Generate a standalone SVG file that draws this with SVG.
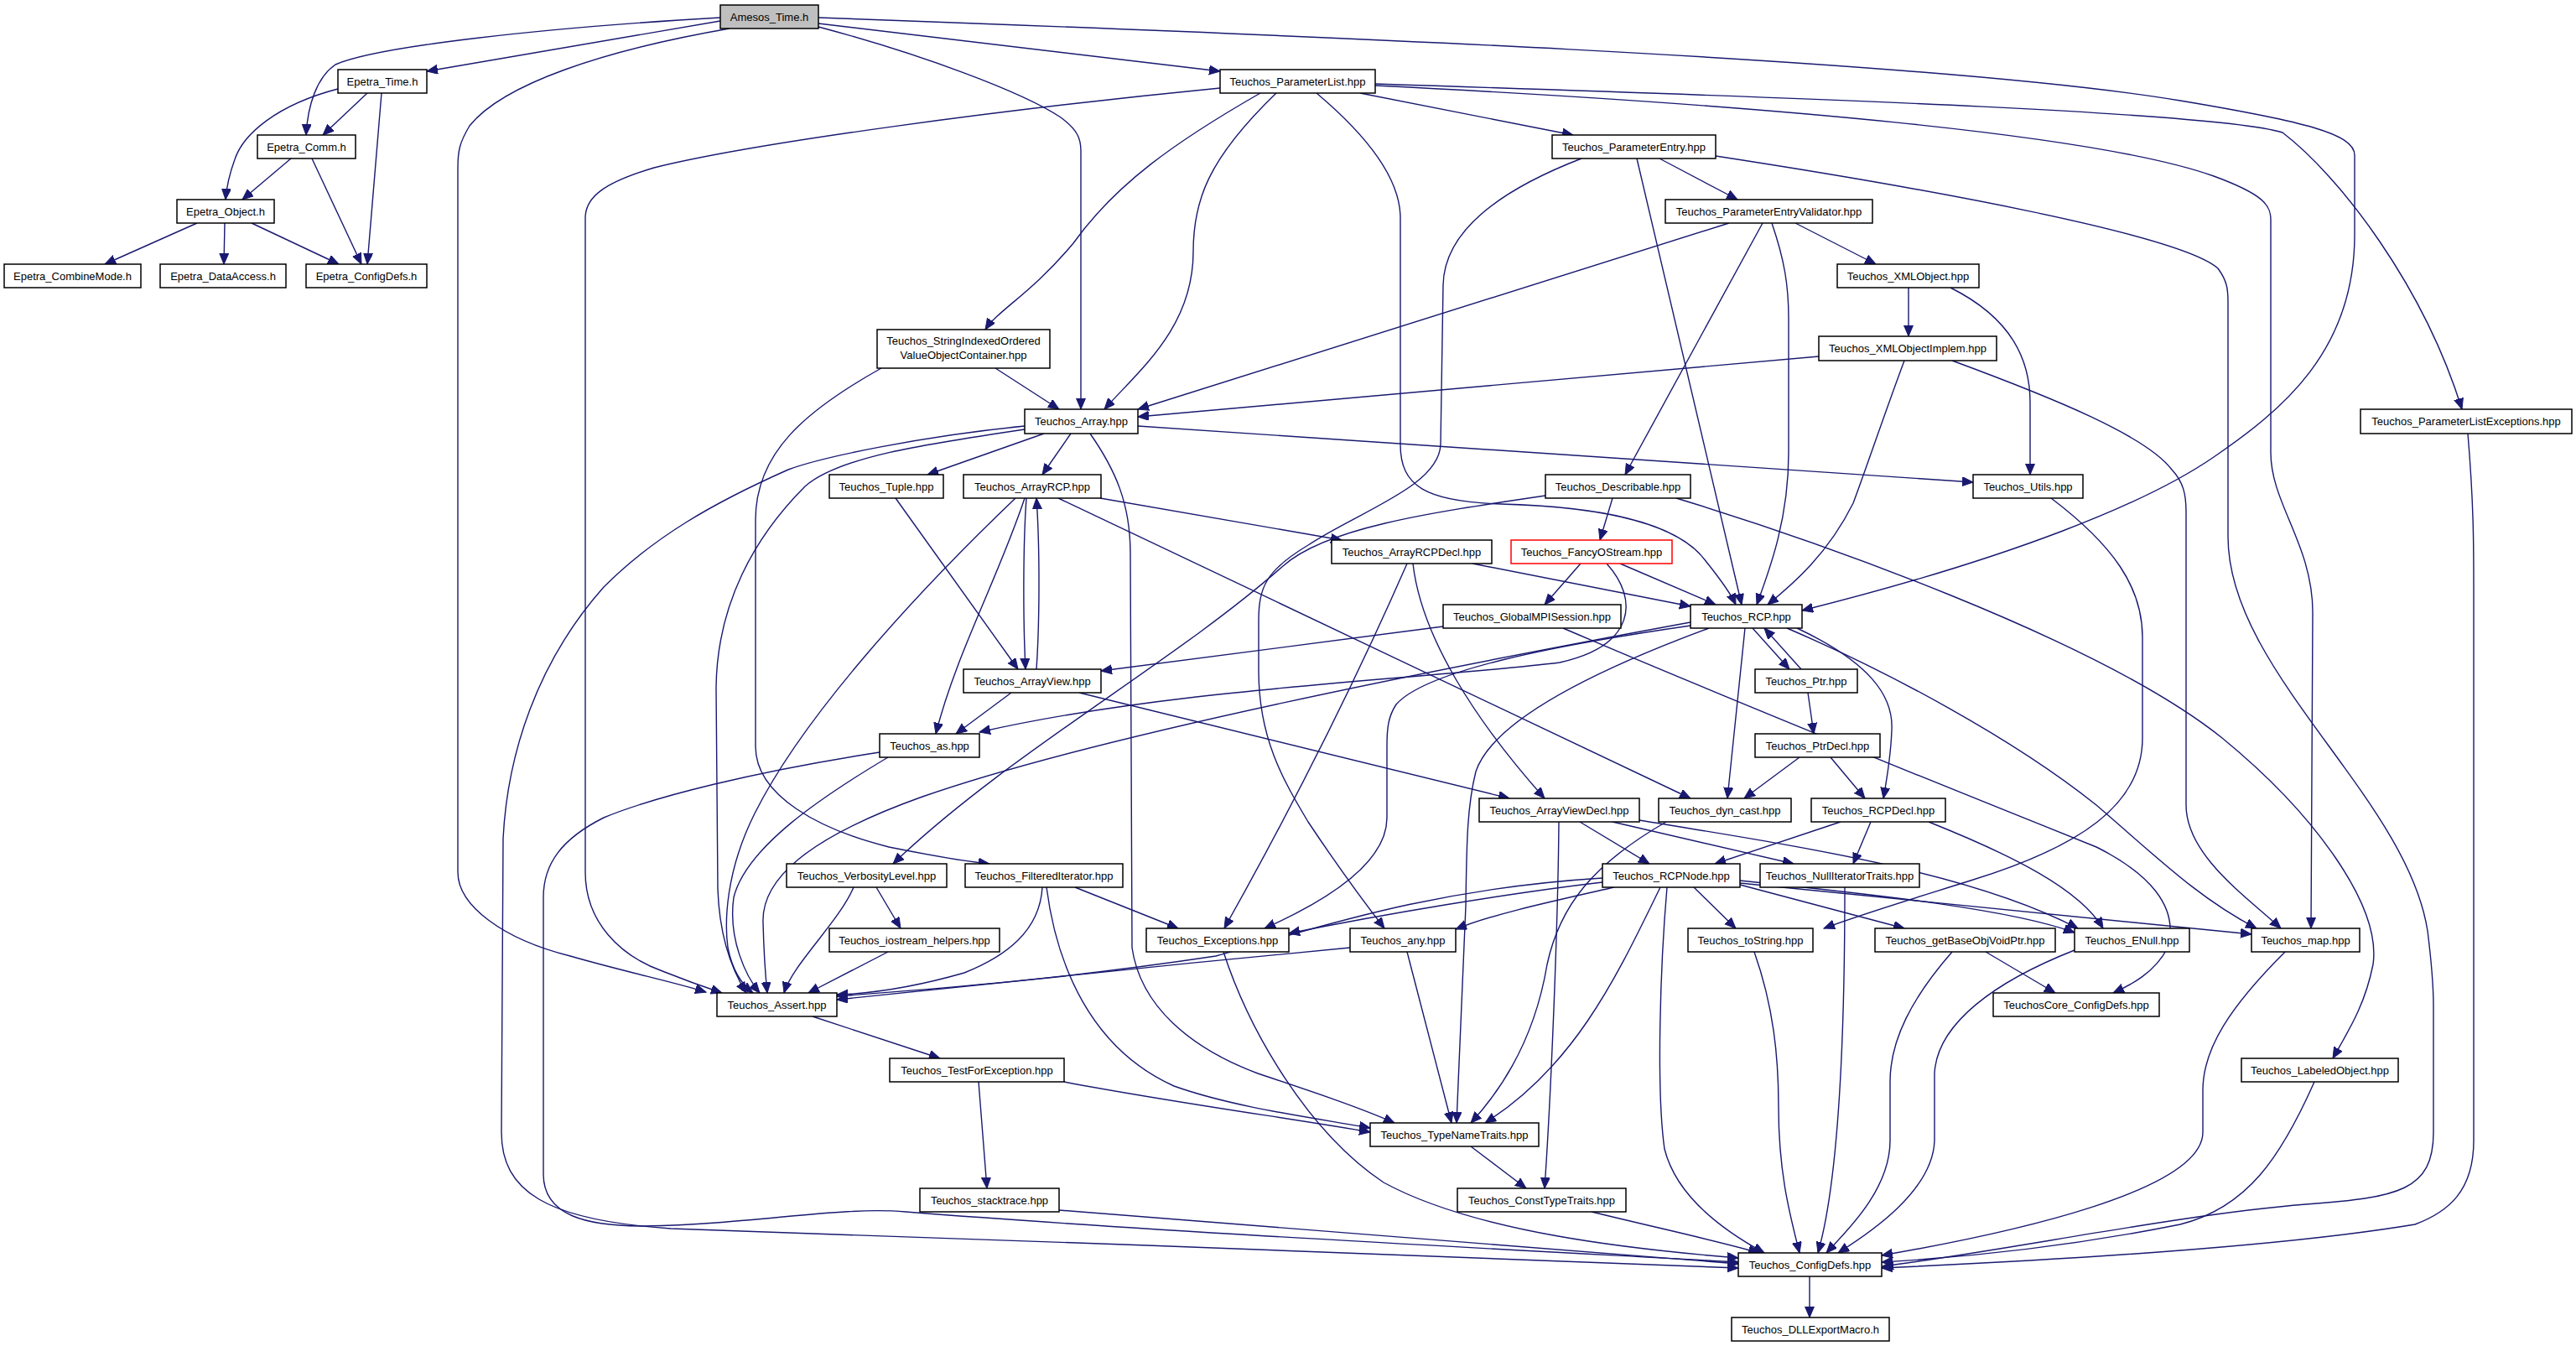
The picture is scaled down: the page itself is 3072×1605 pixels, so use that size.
<svg xmlns="http://www.w3.org/2000/svg" width="3072" height="1605" viewBox="0 0 3072 1605">
<style>
.n rect{fill:#fff;stroke:#000;stroke-width:1.5}
.n text{font-family:"Liberation Sans",Arial,sans-serif;font-size:13px;fill:#000;text-anchor:middle}
.e path{fill:none;stroke:#191970;stroke-width:1.4;marker-end:url(#a)}
</style>
<defs>
<marker id="a" markerUnits="userSpaceOnUse" markerWidth="14" markerHeight="12" refX="13" refY="5.5" orient="auto">
<path d="M0,0 L13,5.5 L0,11 z" fill="#191970" stroke="#191970" stroke-width="1"/>
</marker>
</defs>
<rect x="0" y="0" width="3072" height="1605" fill="#fff"/>
<g id="connectors" class="e">
<path d="M859,25 L509,85"/>
<path d="M859,21 C650,33 450,55 400,77 C378,92 367,125 365,161"/>
<path d="M870,34 C720,60 600,100 560,150 C548,170 546,180 546,200 L546,1040 C546,1080 600,1120 680,1140 C750,1160 800,1170 842,1183"/>
<path d="M976,32 C1100,65 1220,110 1265,140 C1285,155 1289,165 1289,180 L1289,488"/>
<path d="M976,28 L1455,85"/>
<path d="M976,21 C1500,40 2300,70 2600,120 C2750,145 2808,160 2808,185 L2808,280 C2808,420 2720,490 2640,545 C2560,600 2400,665 2149,728"/>
<path d="M438,111 L385,161"/>
<path d="M403,106 C330,125 290,160 280,190 C272,212 270,225 269,238"/>
<path d="M455,111 L438,315"/>
<path d="M347,189 L289,238"/>
<path d="M372,189 L431,315"/>
<path d="M235,266 L125,315"/>
<path d="M268,266 L267,315"/>
<path d="M300,266 L404,315"/>
<path d="M1455,105 C1200,130 900,170 780,200 C720,218 698,235 698,260 L698,1040 C698,1100 740,1140 790,1158 C820,1170 840,1177 861,1184"/>
<path d="M1503,111 C1400,170 1330,220 1280,290 C1230,350 1190,370 1175,393"/>
<path d="M1522,111 C1440,190 1423,240 1423,300 C1423,390 1360,440 1317,488"/>
<path d="M1570,111 C1640,170 1670,220 1670,260 L1670,530 C1670,580 1700,598 1790,601 C1900,604 2000,620 2035,670 C2055,695 2065,710 2070,721"/>
<path d="M1622,111 L1876,161"/>
<path d="M1640,100 C2200,118 2650,135 2722,158 C2790,210 2890,340 2936,488"/>
<path d="M1640,102 C2100,125 2500,160 2640,210 C2700,232 2708,245 2708,262 L2708,540 C2708,600 2758,650 2758,730 L2756,1107"/>
<path d="M1979,189 L2072,238"/>
<path d="M1952,189 L2077,721"/>
<path d="M1886,189 C1780,230 1722,280 1721,340 L1718,530 C1716,580 1620,610 1560,650 C1510,680 1501,700 1501,740 L1501,800 C1501,880 1530,930 1560,980 C1600,1040 1630,1080 1651,1107"/>
<path d="M2046,186 C2300,225 2600,280 2645,320 C2656,335 2657,345 2657,360 L2657,640 C2657,800 2870,950 2895,1110 C2900,1150 2902,1180 2902,1200 L2902,1350 C2902,1420 2860,1428 2750,1436 C2600,1448 2400,1490 2245,1510"/>
<path d="M2062,266 L1357,488"/>
<path d="M2102,266 L1938,566"/>
<path d="M2113,266 C2128,310 2133,340 2133,380 L2133,540 C2133,620 2110,680 2095,721"/>
<path d="M2141,266 L2237,315"/>
<path d="M2276,343 L2276,401"/>
<path d="M2326,343 C2400,380 2421,430 2421,480 L2421,566"/>
<path d="M2169,425 L1357,497"/>
<path d="M2271,430 C2245,500 2225,560 2210,600 C2180,660 2140,695 2108,721"/>
<path d="M2328,430 C2450,475 2560,520 2590,560 C2604,575 2607,590 2607,610 L2607,960 C2607,1020 2680,1070 2720,1107"/>
<path d="M1187,439 L1263,488"/>
<path d="M1051,439 C960,490 901,540 901,620 L901,890 C901,950 980,990 1060,1010 C1120,1022 1160,1028 1180,1030"/>
<path d="M1245,517 L1106,566"/>
<path d="M1277,517 L1243,566"/>
<path d="M1357,508 L2353,575"/>
<path d="M1222,512 C1100,530 1000,545 960,580 C900,640 855,720 854,820 L856,1060 C858,1120 875,1160 890,1184"/>
<path d="M1222,508 C1100,520 980,545 940,560 C850,600 780,640 720,700 C640,790 605,900 600,1000 L598,1350 C598,1420 650,1455 800,1465 C1200,1480 1700,1495 2073,1512"/>
<path d="M1049,897 C900,920 780,950 720,975 C670,1000 648,1030 648,1070 L648,1400 C648,1450 700,1462 768,1462 C900,1460 1000,1438 1080,1445 C1400,1470 1800,1490 2073,1505"/>
<path d="M1300,517 C1330,560 1348,600 1348,660 L1350,1130 C1360,1200 1420,1250 1500,1280 C1560,1300 1620,1320 1663,1339"/>
<path d="M1224,594 C1220,650 1220,740 1223,798"/>
<path d="M1236,798 C1240,740 1240,650 1236,594"/>
<path d="M1222,594 C1190,690 1140,780 1116,875"/>
<path d="M1211,594 C1100,700 960,850 900,970 C865,1040 864,1100 868,1130 C875,1165 890,1178 898,1184"/>
<path d="M1312,594 L1600,644"/>
<path d="M1262,594 L2016,952"/>
<path d="M1068,594 L1214,798"/>
<path d="M1206,826 L1140,875"/>
<path d="M1287,826 L1800,952"/>
<path d="M1059,903 C980,950 890,1010 875,1070 C868,1120 890,1165 906,1184"/>
<path d="M1916,672 C1955,715 1950,770 1860,790 C1700,810 1400,820 1168,873"/>
<path d="M2016,742 C1700,800 1300,880 1100,950 C960,1000 908,1050 910,1100 C911,1140 913,1165 915,1184"/>
<path d="M2016,746 C1850,770 1700,800 1665,840 C1655,855 1654,870 1654,890 L1654,975 C1654,1030 1580,1075 1508,1107"/>
<path d="M2090,749 L2134,798"/>
<path d="M2148,798 L2104,749"/>
<path d="M2081,749 L2060,952"/>
<path d="M2143,749 C2230,790 2258,830 2256,870 C2255,900 2250,930 2246,952"/>
<path d="M2038,749 C1900,800 1780,860 1760,920 C1750,960 1749,1000 1748,1080 L1737,1339"/>
<path d="M2131,749 C2250,800 2400,880 2500,960 C2570,1020 2620,1070 2691,1107"/>
<path d="M1864,749 C2100,850 2350,950 2500,1010 C2560,1040 2600,1080 2585,1130 C2570,1160 2540,1175 2520,1184"/>
<path d="M1923,594 L1908,644"/>
<path d="M1843,591 C1700,612 1580,630 1530,675 C1400,790 1200,900 1065,1030"/>
<path d="M1999,594 C2150,640 2500,760 2650,880 C2760,970 2840,1080 2830,1150 C2820,1200 2800,1230 2782,1262"/>
<path d="M1885,672 L1842,721"/>
<path d="M1932,672 L2046,721"/>
<path d="M1756,672 L2016,723"/>
<path d="M1685,672 C1695,760 1760,860 1842,952"/>
<path d="M1678,672 C1600,850 1520,1000 1460,1107"/>
<path d="M1721,747 L1313,800"/>
<path d="M2156,826 L2163,875"/>
<path d="M2146,903 L2080,952"/>
<path d="M2183,903 L2224,952"/>
<path d="M1884,980 L1967,1030"/>
<path d="M1923,980 L2139,1030"/>
<path d="M1859,980 C1858,1100 1850,1300 1842,1417"/>
<path d="M1955,978 C2150,1010 2350,1040 2478,1107"/>
<path d="M1987,980 C1900,1030 1860,1080 1845,1150 C1830,1240 1790,1300 1754,1339"/>
<path d="M2195,980 L2045,1030"/>
<path d="M2231,980 L2210,1030"/>
<path d="M2300,980 C2400,1020 2480,1060 2508,1107"/>
<path d="M1911,1047 C1700,1060 1560,1110 1450,1140 C1250,1170 1100,1180 998,1188"/>
<path d="M1911,1052 C1800,1065 1650,1090 1537,1113"/>
<path d="M1925,1058 C1850,1075 1780,1090 1736,1108"/>
<path d="M1980,1058 C1930,1160 1880,1270 1771,1339"/>
<path d="M1988,1058 C1980,1150 1975,1300 1985,1370 C2000,1430 2060,1470 2104,1494"/>
<path d="M2020,1058 L2070,1107"/>
<path d="M2075,1055 L2271,1107"/>
<path d="M2075,1050 C2250,1068 2400,1085 2474,1112"/>
<path d="M2075,1053 L2685,1114"/>
<path d="M2200,1058 C2200,1200 2195,1400 2168,1494"/>
<path d="M2446,594 C2520,650 2555,700 2555,760 L2555,880 C2555,960 2480,1010 2350,1050 C2280,1072 2220,1090 2175,1107"/>
<path d="M1018,1058 C1000,1100 945,1150 935,1184"/>
<path d="M1045,1058 L1074,1107"/>
<path d="M1059,1135 L964,1184"/>
<path d="M1282,1058 L1405,1107"/>
<path d="M1243,1058 C1240,1110 1200,1140 1150,1160 C1080,1180 1030,1185 998,1186"/>
<path d="M1248,1058 C1260,1150 1300,1250 1400,1295 C1470,1320 1560,1332 1634,1345"/>
<path d="M1269,1290 C1400,1315 1550,1335 1634,1350"/>
<path d="M1459,1135 C1490,1230 1560,1350 1650,1410 C1760,1470 1950,1490 2073,1500"/>
<path d="M1610,1130 C1400,1150 1150,1175 998,1192"/>
<path d="M1678,1135 L1731,1339"/>
<path d="M2092,1135 C2115,1200 2121,1260 2121,1320 C2121,1400 2135,1450 2146,1494"/>
<path d="M2368,1135 L2451,1184"/>
<path d="M2328,1135 C2280,1190 2254,1240 2254,1290 L2254,1360 C2254,1420 2200,1470 2178,1494"/>
<path d="M2474,1133 C2380,1170 2310,1220 2307,1280 L2307,1360 C2305,1420 2230,1470 2192,1494"/>
<path d="M2725,1135 C2660,1200 2627,1250 2627,1300 L2627,1350 C2627,1420 2400,1470 2244,1497"/>
<path d="M2760,1290 C2720,1380 2680,1440 2600,1460 C2450,1490 2330,1500 2244,1505"/>
<path d="M2943,517 C2950,600 2950,650 2950,700 L2950,1360 C2950,1420 2920,1445 2880,1460 C2700,1490 2400,1505 2244,1512"/>
<path d="M969,1212 L1121,1262"/>
<path d="M1167,1290 L1177,1417"/>
<path d="M1263,1443 C1600,1470 1900,1495 2073,1507"/>
<path d="M1754,1367 L1820,1417"/>
<path d="M1898,1445 C1980,1465 2050,1480 2098,1494"/>
<path d="M2158,1522 L2158,1571"/>
</g>
<g id="n-amesos" class="n"><rect x="859" y="6" width="117" height="28" style="fill:#bfbfbf"/><text x="917.5" y="24.5">Amesos_Time.h</text></g>
<g id="n-eptime" class="n"><rect x="403" y="83" width="106" height="28"/><text x="456" y="101.5">Epetra_Time.h</text></g>
<g id="n-plist" class="n"><rect x="1455" y="83" width="185" height="28"/><text x="1547.5" y="101.5">Teuchos_ParameterList.hpp</text></g>
<g id="n-epcomm" class="n"><rect x="307" y="161" width="117" height="28"/><text x="365.5" y="179.5">Epetra_Comm.h</text></g>
<g id="n-pentry" class="n"><rect x="1851" y="161" width="195" height="28"/><text x="1948.5" y="179.5">Teuchos_ParameterEntry.hpp</text></g>
<g id="n-epobj" class="n"><rect x="211" y="238" width="116" height="28"/><text x="269" y="256.5">Epetra_Object.h</text></g>
<g id="n-pev" class="n"><rect x="1986" y="238" width="247" height="28"/><text x="2109.5" y="256.5">Teuchos_ParameterEntryValidator.hpp</text></g>
<g id="n-epcm" class="n"><rect x="5" y="315" width="163" height="28"/><text x="86.5" y="333.5">Epetra_CombineMode.h</text></g>
<g id="n-epda" class="n"><rect x="191" y="315" width="150" height="28"/><text x="266" y="333.5">Epetra_DataAccess.h</text></g>
<g id="n-epcd" class="n"><rect x="365" y="315" width="144" height="28"/><text x="437" y="333.5">Epetra_ConfigDefs.h</text></g>
<g id="n-xmlobj" class="n"><rect x="2191" y="315" width="169" height="28"/><text x="2275.5" y="333.5">Teuchos_XMLObject.hpp</text></g>
<g id="n-siov" class="n"><rect x="1046" y="393" width="206" height="46"/><text x="1149" y="411">Teuchos_StringIndexedOrdered</text><text x="1149" y="428">ValueObjectContainer.hpp</text></g>
<g id="n-xmlimpl" class="n"><rect x="2169" y="401" width="212" height="29"/><text x="2275" y="420">Teuchos_XMLObjectImplem.hpp</text></g>
<g id="n-array" class="n"><rect x="1222" y="488" width="135" height="29"/><text x="1289.5" y="507">Teuchos_Array.hpp</text></g>
<g id="n-plexc" class="n"><rect x="2815" y="488" width="252" height="29"/><text x="2941" y="507">Teuchos_ParameterListExceptions.hpp</text></g>
<g id="n-tuple" class="n"><rect x="989" y="566" width="136" height="28"/><text x="1057" y="584.5">Teuchos_Tuple.hpp</text></g>
<g id="n-arrayrcp" class="n"><rect x="1149" y="566" width="164" height="28"/><text x="1231" y="584.5">Teuchos_ArrayRCP.hpp</text></g>
<g id="n-describable" class="n"><rect x="1843" y="566" width="173" height="28"/><text x="1929.5" y="584.5">Teuchos_Describable.hpp</text></g>
<g id="n-utils" class="n"><rect x="2353" y="566" width="131" height="28"/><text x="2418.5" y="584.5">Teuchos_Utils.hpp</text></g>
<g id="n-arrayrcpdecl" class="n"><rect x="1588" y="644" width="191" height="28"/><text x="1683.5" y="662.5">Teuchos_ArrayRCPDecl.hpp</text></g>
<g id="n-fancy" class="n"><rect x="1802" y="644" width="192" height="28" style="stroke:#ff0000"/><text x="1898" y="662.5">Teuchos_FancyOStream.hpp</text></g>
<g id="n-gmpi" class="n"><rect x="1721" y="721" width="212" height="28"/><text x="1827" y="739.5">Teuchos_GlobalMPISession.hpp</text></g>
<g id="n-rcp" class="n"><rect x="2016" y="721" width="133" height="28"/><text x="2082.5" y="739.5">Teuchos_RCP.hpp</text></g>
<g id="n-arrayview" class="n"><rect x="1149" y="798" width="164" height="28"/><text x="1231" y="816.5">Teuchos_ArrayView.hpp</text></g>
<g id="n-ptr" class="n"><rect x="2093" y="798" width="122" height="28"/><text x="2154" y="816.5">Teuchos_Ptr.hpp</text></g>
<g id="n-as" class="n"><rect x="1049" y="875" width="119" height="28"/><text x="1108.5" y="893.5">Teuchos_as.hpp</text></g>
<g id="n-ptrdecl" class="n"><rect x="2093" y="875" width="149" height="28"/><text x="2167.5" y="893.5">Teuchos_PtrDecl.hpp</text></g>
<g id="n-avdecl" class="n"><rect x="1764" y="952" width="191" height="28"/><text x="1859.5" y="970.5">Teuchos_ArrayViewDecl.hpp</text></g>
<g id="n-dyncast" class="n"><rect x="1978" y="952" width="158" height="28"/><text x="2057" y="970.5">Teuchos_dyn_cast.hpp</text></g>
<g id="n-rcpdecl" class="n"><rect x="2160" y="952" width="160" height="28"/><text x="2240" y="970.5">Teuchos_RCPDecl.hpp</text></g>
<g id="n-verb" class="n"><rect x="938" y="1030" width="191" height="28"/><text x="1033.5" y="1048.5">Teuchos_VerbosityLevel.hpp</text></g>
<g id="n-filtered" class="n"><rect x="1151" y="1030" width="188" height="28"/><text x="1245" y="1048.5">Teuchos_FilteredIterator.hpp</text></g>
<g id="n-rcpnode" class="n"><rect x="1911" y="1030" width="164" height="28"/><text x="1993" y="1048.5">Teuchos_RCPNode.hpp</text></g>
<g id="n-nullit" class="n"><rect x="2099" y="1030" width="190" height="28"/><text x="2194" y="1048.5">Teuchos_NullIteratorTraits.hpp</text></g>
<g id="n-ioh" class="n"><rect x="989" y="1107" width="203" height="28"/><text x="1090.5" y="1125.5">Teuchos_iostream_helpers.hpp</text></g>
<g id="n-exc" class="n"><rect x="1367" y="1107" width="170" height="28"/><text x="1452" y="1125.5">Teuchos_Exceptions.hpp</text></g>
<g id="n-any" class="n"><rect x="1610" y="1107" width="126" height="28"/><text x="1673" y="1125.5">Teuchos_any.hpp</text></g>
<g id="n-tostring" class="n"><rect x="2013" y="1107" width="149" height="28"/><text x="2087.5" y="1125.5">Teuchos_toString.hpp</text></g>
<g id="n-gbovp" class="n"><rect x="2236" y="1107" width="215" height="28"/><text x="2343.5" y="1125.5">Teuchos_getBaseObjVoidPtr.hpp</text></g>
<g id="n-enull" class="n"><rect x="2474" y="1107" width="137" height="28"/><text x="2542.5" y="1125.5">Teuchos_ENull.hpp</text></g>
<g id="n-map" class="n"><rect x="2685" y="1107" width="129" height="28"/><text x="2749.5" y="1125.5">Teuchos_map.hpp</text></g>
<g id="n-assert" class="n"><rect x="855" y="1184" width="143" height="28"/><text x="926.5" y="1202.5">Teuchos_Assert.hpp</text></g>
<g id="n-tccd" class="n"><rect x="2377" y="1184" width="198" height="28"/><text x="2476" y="1202.5">TeuchosCore_ConfigDefs.hpp</text></g>
<g id="n-tfe" class="n"><rect x="1061" y="1262" width="208" height="28"/><text x="1165" y="1280.5">Teuchos_TestForException.hpp</text></g>
<g id="n-labeled" class="n"><rect x="2673" y="1262" width="187" height="28"/><text x="2766.5" y="1280.5">Teuchos_LabeledObject.hpp</text></g>
<g id="n-tnt" class="n"><rect x="1634" y="1339" width="201" height="28"/><text x="1734.5" y="1357.5">Teuchos_TypeNameTraits.hpp</text></g>
<g id="n-stack" class="n"><rect x="1097" y="1417" width="166" height="28"/><text x="1180" y="1435.5">Teuchos_stacktrace.hpp</text></g>
<g id="n-ctt" class="n"><rect x="1738" y="1417" width="201" height="28"/><text x="1838.5" y="1435.5">Teuchos_ConstTypeTraits.hpp</text></g>
<g id="n-configdefs" class="n"><rect x="2073" y="1494" width="171" height="28"/><text x="2158.5" y="1512.5">Teuchos_ConfigDefs.hpp</text></g>
<g id="n-dll" class="n"><rect x="2065" y="1571" width="188" height="28"/><text x="2159" y="1589.5">Teuchos_DLLExportMacro.h</text></g>
</svg>
